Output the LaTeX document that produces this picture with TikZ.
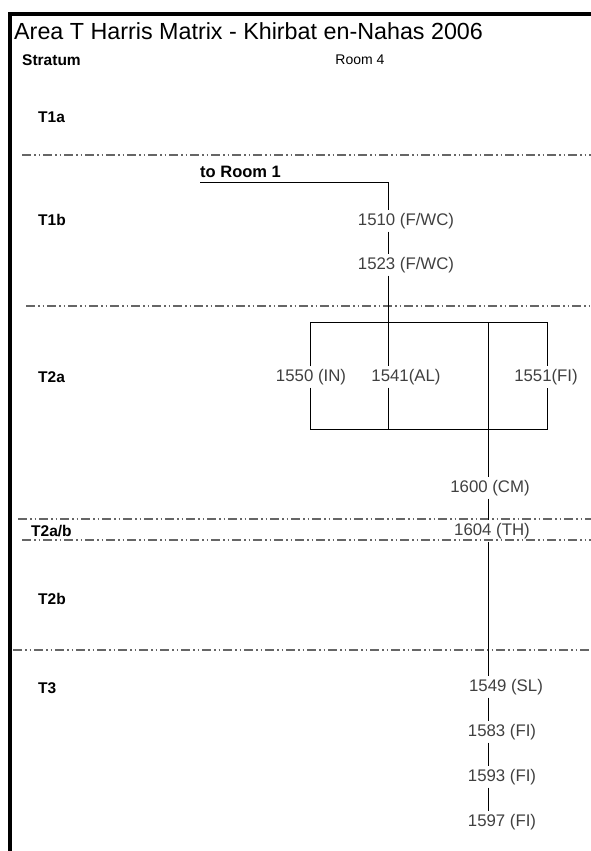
\documentclass[tikz,border=0pt]{standalone}
\usepackage{fontspec}
\setmainfont{Liberation Sans}
\usepackage{tikz}
\usetikzlibrary{positioning}

\begin{document}
\begin{tikzpicture}[
    x=1pt, y=-1pt,
    title/.style={anchor=base west, inner sep=0pt, font=\fontsize{23.3}{26}\selectfont},
    head/.style={inner sep=0pt, font=\fontsize{14}{16}\selectfont},
    stratum/.style={anchor=west, inner sep=0pt, font=\bfseries\fontsize{15.5}{17}\selectfont},
    unit/.style={inner sep=2.5pt, text=black!75, font=\fontsize{16.8}{18}\selectfont},
    stratline/.style={draw=black!60, line width=1.4pt,
        dash pattern=on 9pt off 3pt on 1.5pt off 3pt on 1.5pt off 3pt},
    link/.style={draw, line width=1pt},
]
    \useasboundingbox (0,0) rectangle (591,851);
    \draw[line width=3.5pt] (10,851) -- (10,14) -- (591,14);

    \node[title] (title) at (14,40) {Area T Harris Matrix - Khirbat en-Nahas 2006};
    \node[stratum] (stratum) at (22,60) {Stratum};
    \node[head] (room) at (360,60) {Room 4};

    \node[stratum] (t1a) at (38,117) {T1a};
    \node[stratum] (t1b) at (38,220) {T1b};
    \node[stratum] (t2a) at (38,377) {T2a};
    \node[stratum] (t2ab) at (31,531) {T2a/b};
    \node[stratum] (t2b) at (38,599) {T2b};
    \node[stratum] (t3) at (38,688) {T3};

    \draw[stratline] (22,155) -- (591,155);
    \draw[stratline] (26,306) -- (591,306);
    \draw[stratline] (18,519) -- (591,519);
    \draw[stratline] (22,540) -- (591,540);
    \draw[stratline] (13,650) -- (591,650);

    \node[anchor=base west, inner sep=0pt, font=\bfseries\fontsize{16.5}{18}\selectfont] (toroom) at (200,177) {to Room 1};

    \node[unit] (n1510) at (406,221) {1510 (F/WC)};
    \node[unit] (n1523) at (406,265) {1523 (F/WC)};
    \node[unit] (n1550) at (311,377) {1550 (IN)};
    \node[unit] (n1541) at (406,377) {1541(AL)};
    \node[unit] (n1551) at (546,377) {1551(FI)};
    \node[unit] (n1600) at (490,488) {1600 (CM)};
    \node[unit] (n1604) at (492,531) {1604 (TH)};
    \node[unit] (n1549) at (506,687) {1549 (SL)};
    \node[unit] (n1583) at (502,732) {1583 (FI)};
    \node[unit] (n1593) at (502,777) {1593 (FI)};
    \node[unit] (n1597) at (502,822) {1597 (FI)};

    \coordinate (colA) at (388,0);
    \coordinate (colB) at (310,0);
    \coordinate (colD) at (488,0);
    \coordinate (colE) at (547,0);
    \coordinate (boxtop) at (0,322);
    \coordinate (boxbot) at (0,429);

    \draw[link] (200,182) -- (colA |- 0,182) -- (n1510.north -| colA);
    \draw[link] (n1510.south -| colA) -- (n1523.north -| colA);
    \draw[link] (n1523.south -| colA) -- (n1541.north -| colA);
    \draw[link] (n1550.north -| colB) -- (colB |- boxtop) -- (colE |- boxtop) -- (n1551.north -| colE);
    \draw[link] (n1550.south -| colB) -- (colB |- boxbot) -- (colE |- boxbot) -- (n1551.south -| colE);
    \draw[link] (n1541.south -| colA) -- (colA |- boxbot);
    \draw[link] (colD |- boxtop) -- (n1600.north -| colD);
    \draw[link] (n1600.south -| colD) -- (n1604.north -| colD);
    \draw[link] (n1604.south -| colD) -- (n1549.north -| colD);
    \draw[link] (n1549.south -| colD) -- (n1583.north -| colD);
    \draw[link] (n1583.south -| colD) -- (n1593.north -| colD);
    \draw[link] (n1593.south -| colD) -- (n1597.north -| colD);
\end{tikzpicture}
\end{document}
